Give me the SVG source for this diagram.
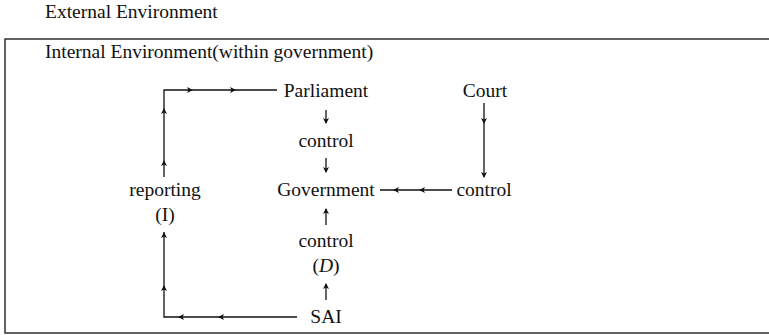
<svg xmlns="http://www.w3.org/2000/svg" width="769" height="335" viewBox="0 0 769 335">
<style>
text{font-family:"Liberation Serif","Times New Roman",serif;font-size:19.5px;fill:#111}
.m{text-anchor:middle}
.i{font-style:italic}
.ln{fill:none;stroke:#111;stroke-width:1.3}
.ah{fill:#111}
</style>
<defs>
<path id="ar" d="M0,0 L-6,-3 L-4.5,0 L-6,3 Z"/>
</defs>
<rect x="5" y="39" width="768" height="294" fill="none" stroke="#111" stroke-width="1.3"/>
<text x="45" y="18">External Environment</text>
<text x="45" y="58">Internal Environment(within government)</text>
<g id="parliament"><text class="m" x="326" y="97">Parliament</text></g>
<g id="court"><text class="m" x="485" y="97">Court</text></g>
<g id="control-top"><text class="m" x="326" y="147">control</text></g>
<g id="government"><text class="m" x="326" y="196">Government</text></g>
<g id="control-right"><text class="m" x="484" y="196">control</text></g>
<g id="reporting"><text class="m" x="165" y="196">reporting</text><text class="m" x="165" y="221">(I)</text></g>
<g id="control-d"><text class="m" x="326" y="247">control</text><text class="m" x="326" y="272">(<tspan class="i">D</tspan>)</text></g>
<g id="sai"><text class="m" x="326" y="323">SAI</text></g>
<g id="connectors" class="ah">
<path class="ln" d="M164,177 V90 H277"/>
<use href="#ar" transform="translate(164,108) rotate(-90)"/>
<use href="#ar" transform="translate(164,160) rotate(-90)"/>
<use href="#ar" transform="translate(193,90)"/>
<use href="#ar" transform="translate(236,90)"/>
<path class="ln" d="M297,317 H164 V232"/>
<use href="#ar" transform="translate(178,317) rotate(180)"/>
<use href="#ar" transform="translate(218,317) rotate(180)"/>
<use href="#ar" transform="translate(164,285) rotate(-90)"/>
<use href="#ar" transform="translate(164,232) rotate(-90)"/>
<path class="ln" d="M326,110 V123"/>
<use href="#ar" transform="translate(326,124) rotate(90)"/>
<path class="ln" d="M326,158 V172"/>
<use href="#ar" transform="translate(326,173) rotate(90)"/>
<path class="ln" d="M326,225 V209"/>
<use href="#ar" transform="translate(326,208) rotate(-90)"/>
<path class="ln" d="M326,300 V284"/>
<use href="#ar" transform="translate(326,283) rotate(-90)"/>
<path class="ln" d="M484,103 V177"/>
<use href="#ar" transform="translate(484,124) rotate(90)"/>
<use href="#ar" transform="translate(484,178) rotate(90)"/>
<path class="ln" d="M452,190 H380"/>
<use href="#ar" transform="translate(393,190) rotate(180)"/>
<use href="#ar" transform="translate(419,190) rotate(180)"/>
</g>
</svg>
